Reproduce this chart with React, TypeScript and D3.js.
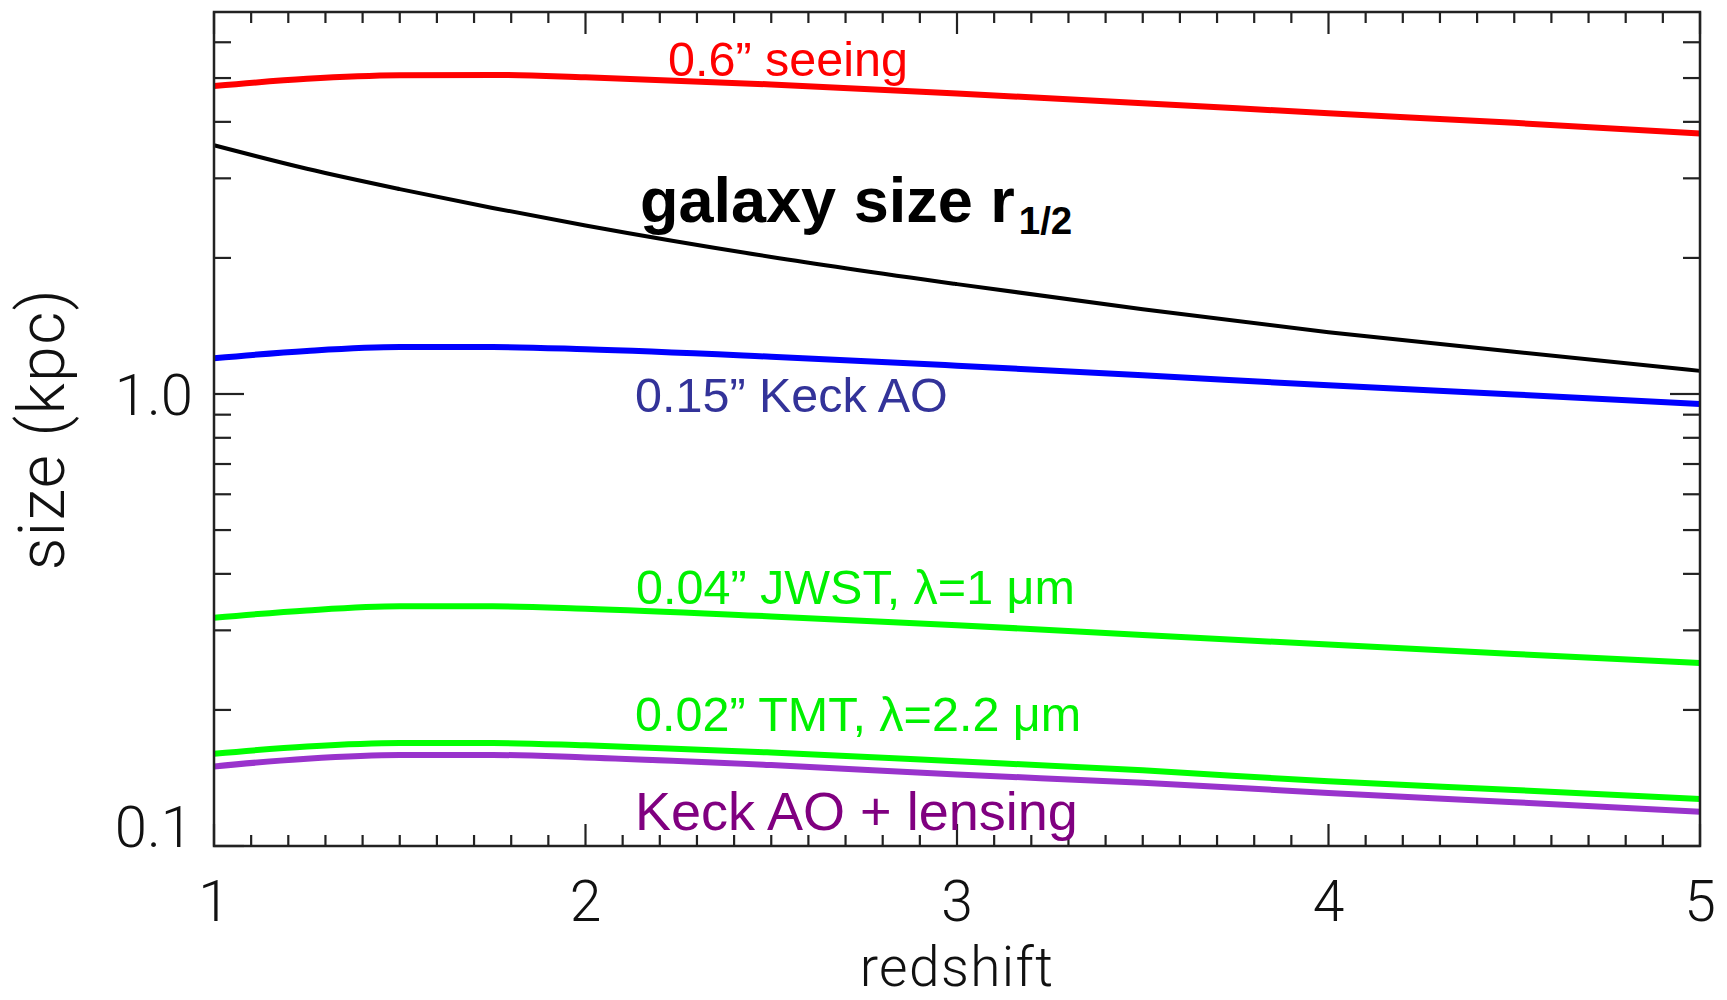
import React from "react";
import * as d3 from "d3";

// Redshift sampling of the curves
const redshift = [1, 1.25, 1.5, 1.75, 2, 2.5, 3, 3.5, 4, 4.5, 5];

// Physical size (kpc) resolved by each instrument, and the galaxy half-light radius
const seeingSize = [4.8, 4.98, 5.07, 5.08, 5.02, 4.84, 4.62, 4.4, 4.18, 3.98, 3.77];
const galaxySize = [3.55, 3.15, 2.84, 2.58, 2.36, 2.01, 1.75, 1.54, 1.37, 1.24, 1.125];
const keckAOSize = [1.2, 1.245, 1.27, 1.27, 1.256, 1.209, 1.155, 1.1, 1.045, 0.998, 0.95];
const jwstSize = [0.32, 0.332, 0.339, 0.339, 0.335, 0.322, 0.308, 0.293, 0.279, 0.266, 0.254];
const tmtSize = [0.16, 0.166, 0.169, 0.169, 0.167, 0.161, 0.154, 0.147, 0.139, 0.133, 0.127];
const lensedSize = [0.15, 0.156, 0.159, 0.159, 0.157, 0.151, 0.144, 0.138, 0.131, 0.125, 0.119];

// Axis ticks
const xMajorTicks = [1, 2, 3, 4, 5];
const yMajorTicks = [0.1, 1.0];
const yTickLabels = ["0.1", "1.0"];
const yMinorTicks = [0.2, 0.3, 0.4, 0.5, 0.6, 0.7, 0.8, 0.9, 2, 3, 4, 5, 6];

const series = [
  { key: "seeing", values: seeingSize, color: "#ff0000", width: 6 },
  { key: "galaxy", values: galaxySize, color: "#000000", width: 4 },
  { key: "keck", values: keckAOSize, color: "#0000ff", width: 6 },
  { key: "jwst", values: jwstSize, color: "#00ff00", width: 6 },
  { key: "tmt", values: tmtSize, color: "#00ff00", width: 6 },
  { key: "lensed", values: lensedSize, color: "#9933cc", width: 6 },
];

const W = 1727;
const H = 1000;
const left = 214;
const right = 1700;
const top = 12;
const bottom = 846;

export default function App() {
  const x = d3.scaleLinear().domain([1, 5]).range([left, right]);
  const y = d3.scaleLog().domain([0.1, 7]).range([bottom, top]);

  const line = (vals: number[]) =>
    d3
      .line<number>()
      .x((_, i) => x(redshift[i]))
      .y((v) => y(v))
      .curve(d3.curveMonotoneX)(vals) || "";

  const xMinor: number[] = [];
  for (let k = 10; k <= 50; k++) {
    if (k % 10 !== 0) xMinor.push(k / 10);
  }

  const axisColor = "#222";
  const hershey = "Roboto, 'Liberation Sans', Arial, sans-serif";
  const sans = "'Liberation Sans', Arial, sans-serif";

  return (
    <svg
      width={W}
      height={H}
      viewBox={`0 0 ${W} ${H}`}
      style={{ position: "absolute", left: 0, top: 0, background: "#fff" }}
    >
      <rect x={0} y={0} width={W} height={H} fill="#fff" />

      {/* curves */}
      <g fill="none" strokeLinejoin="round">
        {series.map((s) => (
          <path key={s.key} d={line(s.values)} stroke={s.color} strokeWidth={s.width} />
        ))}
      </g>

      {/* frame */}
      <rect
        x={left}
        y={top}
        width={right - left}
        height={bottom - top}
        fill="none"
        stroke={axisColor}
        strokeWidth={2.5}
      />

      {/* x ticks, bottom and top; y ticks, left and right */}
      <g stroke={axisColor} strokeWidth={2.2}>
        {xMajorTicks.map((t) => (
          <g key={"xM" + t}>
            <line x1={x(t)} x2={x(t)} y1={bottom} y2={bottom - 22} />
            <line x1={x(t)} x2={x(t)} y1={top} y2={top + 22} />
          </g>
        ))}
        {xMinor.map((t) => (
          <g key={"xm" + t}>
            <line x1={x(t)} x2={x(t)} y1={bottom} y2={bottom - 11} />
            <line x1={x(t)} x2={x(t)} y1={top} y2={top + 11} />
          </g>
        ))}
        {yMajorTicks.map((t) => (
          <g key={"yM" + t}>
            <line x1={left} x2={left + 30} y1={y(t)} y2={y(t)} />
            <line x1={right} x2={right - 30} y1={y(t)} y2={y(t)} />
          </g>
        ))}
        {yMinorTicks.map((t) => (
          <g key={"ym" + t}>
            <line x1={left} x2={left + 17} y1={y(t)} y2={y(t)} />
            <line x1={right} x2={right - 17} y1={y(t)} y2={y(t)} />
          </g>
        ))}
      </g>

      {/* tick labels */}
      <g fontFamily={hershey} fontWeight={300} fill="#111">
        {xMajorTicks.map((t) => (
          <text key={"xl" + t} x={x(t)} y={921} fontSize={57} textAnchor="middle">
            {t}
          </text>
        ))}
        {yMajorTicks.map((t, i) => (
          <text
            key={"yl" + t}
            x={193}
            y={i === 0 ? 847 : y(t) + 21}
            fontSize={58}
            textAnchor="end"
          >
            {yTickLabels[i]}
          </text>
        ))}
      </g>

      {/* axis titles */}
      <text
        x={(left + right) / 2}
        y={986}
        textAnchor="middle"
        fontFamily={hershey}
        fontWeight={300}
        fontSize={55}
        letterSpacing={1.4}
        fill="#111"
      >
        redshift
      </text>
      <text
        transform={`translate(64, ${(top + bottom) / 2}) rotate(-90)`}
        textAnchor="middle"
        fontFamily={hershey}
        fontWeight={300}
        fontSize={64}
        letterSpacing={1.5}
        fill="#111"
      >
        size (kpc)
      </text>

      {/* curve annotations */}
      <g fontFamily={sans} fontSize={48.5}>
        <text x={668} y={76} fill="#ff0000">
          0.6” seeing
        </text>
        <text x={635} y={412} fill="#333399">
          0.15” Keck AO
        </text>
        <text x={636} y={604} fill="#00f000">
          0.04” JWST, λ=1 μm
        </text>
        <text x={635} y={731} fill="#00f000">
          0.02” TMT, λ=2.2 μm
        </text>
      </g>
      <text x={635} y={830} fontFamily={sans} fontSize={54} fill="#800080">
        Keck AO + lensing
      </text>
      <text x={640} y={222} fontFamily={sans} fontWeight="bold" fontSize={63} fill="#000">
        galaxy size r
        <tspan dx={4} dy={12} fontSize={38.5}>
          1/2
        </tspan>
      </text>
    </svg>
  );
}
